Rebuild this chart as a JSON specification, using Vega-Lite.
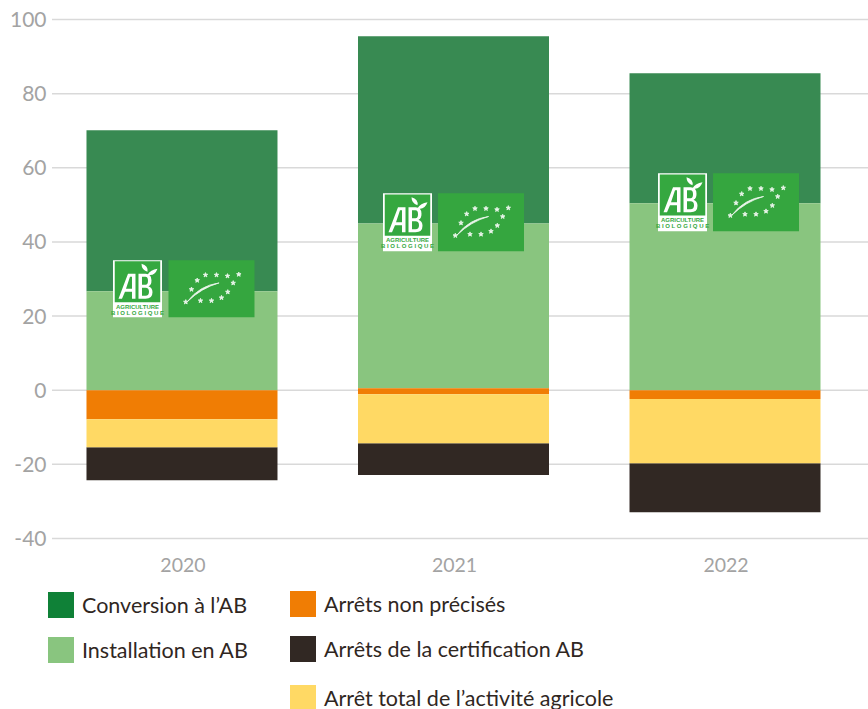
{
"$schema":"https://vega.github.io/schema/vega-lite/v6.json",
"width":816,"height":519,
"autosize":"none",
"padding":{"left":52,"top":19.5,"right":0,"bottom":170.5},
"background":"white",
"config":{"view":{"stroke":null},"font":"Lato",
"legend":{"orient":"none","title":null,"symbolType":"square","symbolSize":676,"symbolStrokeWidth":0,"symbolOpacity":1,"labelFont":"Lato","labelFontSize":21.5,"labelColor":"#30271f","labelOffset":8,"rowPadding":19,"direction":"vertical","padding":0,"labelLimit":400}},
"datasets":{
"ticks":[{"tick":-40},{"tick":-20},{"tick":0},{"tick":20},{"tick":40},{"tick":60},{"tick":80},{"tick":100}],
"bars":[
{"year":"2020","serie":"Conversion à l’AB","low":26.7,"high":70.1},
{"year":"2020","serie":"Installation en AB","low":0,"high":26.7},
{"year":"2020","serie":"Arrêts non précisés","low":-7.8,"high":0},
{"year":"2020","serie":"Arrêt total de l’activité agricole","low":-15.4,"high":-7.8},
{"year":"2020","serie":"Arrêts de la certification AB","low":-24.3,"high":-15.4},
{"year":"2021","serie":"Conversion à l’AB","low":45,"high":95.5},
{"year":"2021","serie":"Installation en AB","low":0.5,"high":45},
{"year":"2021","serie":"Arrêts non précisés","low":-1.1,"high":0.5},
{"year":"2021","serie":"Arrêt total de l’activité agricole","low":-14.3,"high":-1.1},
{"year":"2021","serie":"Arrêts de la certification AB","low":-22.9,"high":-14.3},
{"year":"2022","serie":"Conversion à l’AB","low":50.4,"high":85.5},
{"year":"2022","serie":"Installation en AB","low":0,"high":50.4},
{"year":"2022","serie":"Arrêts non précisés","low":-2.4,"high":0},
{"year":"2022","serie":"Arrêt total de l’activité agricole","low":-19.7,"high":-2.4},
{"year":"2022","serie":"Arrêts de la certification AB","low":-32.9,"high":-19.7}
],
"logos":[
{"year":"2020","top":35.07,"innerTop":34.8,"innerBottom":23.7,"bottom":19.7,"mid":27.38},
{"year":"2021","top":53.1,"innerTop":52.8,"innerBottom":41.7,"bottom":37.5,"mid":45.3},
{"year":"2022","top":58.5,"innerTop":58.2,"innerBottom":47.1,"bottom":42.9,"mid":50.7}
]},
"layer":[
{"data":{"name":"ticks"},"mark":{"type":"rule","color":"#d9d9d9","strokeWidth":1.5},
 "encoding":{"y":{"field":"tick","type":"quantitative","title":null,"scale":{"domain":[-40,100],"nice":false},
   "axis":{"values":[-40,-20,0,20,40,60,80,100],"domain":false,"ticks":false,"grid":false,"labelFont":"Lato","labelFontSize":21,"labelColor":"#a3a3a3","labelPadding":6,"labelOffset":1,"labelExpr":"replace(datum.label,'−','-')"}}}},
{
"encoding":{"x":{"field":"year","type":"ordinal","title":null,
 "scale":{"range":[-5.75,808.75],"paddingInner":0.2965,"paddingOuter":0.1482},
 "axis":{"labelAngle":0,"domain":false,"ticks":false,"grid":false,"labelFont":"Lato","labelFontSize":19.5,"labelColor":"#a3a3a3","labelPadding":18,"labelOffset":1}}},
"layer":[
{"data":{"name":"bars"},"transform":[{"filter":"datum.serie==='Conversion à l’AB'||datum.serie==='Installation en AB'"}],
 "mark":{"type":"bar","width":191,"opacity":0},
 "encoding":{
  "y":{"field":"high","type":"quantitative"},
  "y2":{"field":"low"},
  "color":{"field":"serie","type":"nominal","scale":{"domain":["Conversion à l’AB","Installation en AB"],"range":["#0F8137","#89C57F"]},
   "legend":{"legendX":-4,"legendY":572.5,"encode":{"labels":{"update":{"dy":{"value":2}}}}}}}},
{"data":{"name":"bars"},"transform":[{"filter":"datum.serie==='Conversion à l’AB'||datum.serie==='Installation en AB'"}],
 "mark":{"type":"bar","width":191},
 "encoding":{
  "y":{"field":"high","type":"quantitative"},
  "y2":{"field":"low"},
  "color":{"field":"serie","type":"nominal","scale":{"domain":["Conversion à l’AB","Installation en AB"],"range":["#388A52","#89C57F"]},"legend":null}}},
{"data":{"name":"bars"},"transform":[{"filter":"datum.serie==='Arrêts non précisés'||datum.serie==='Arrêts de la certification AB'"}],
 "mark":{"type":"bar","width":191},
 "encoding":{"y":{"field":"high","type":"quantitative"},"y2":{"field":"low"},
  "color":{"field":"serie","type":"nominal","scale":{"domain":["Arrêts non précisés","Arrêts de la certification AB"],"range":["#F07D04","#312823"]},
   "legend":{"legendX":238,"legendY":571.5,"encode":{"labels":{"update":{"dy":{"value":2}}}}}}}},
{"data":{"name":"bars"},"transform":[{"filter":"datum.serie==='Arrêt total de l’activité agricole'"}],
 "mark":{"type":"bar","width":191},
 "encoding":{"y":{"field":"high","type":"quantitative"},"y2":{"field":"low"},
  "color":{"field":"serie","type":"nominal","scale":{"domain":["Arrêt total de l’activité agricole"],"range":["#FFD964"]},
   "legend":{"legendX":238,"legendY":665.5,"encode":{"labels":{"update":{"dy":{"value":2}}}}}}}},
{"data":{"name":"logos"},"mark":{"type":"bar","width":49,"xOffset":{"expr":"datum.year==='2020'?-44.5:datum.year==='2021'?-46:-42.5"},"color":"#ffffff"},
 "encoding":{"y":{"field":"top","type":"quantitative"},"y2":{"field":"bottom"}}},
{"data":{"name":"logos"},"mark":{"type":"bar","width":45.5,"xOffset":{"expr":"datum.year==='2020'?-44.5:datum.year==='2021'?-46:-42.5"},"color":"#35A840"},
 "encoding":{"y":{"field":"innerTop","type":"quantitative"},"y2":{"field":"innerBottom"}}},
{"data":{"name":"logos"},"mark":{"type":"bar","width":86,"xOffset":{"expr":"datum.year==='2020'?29.5:datum.year==='2021'?27.5:31"},"color":"#35A63F"},
 "encoding":{"y":{"field":"top","type":"quantitative"},"y2":{"field":"bottom"}}},
{"data":{"name":"logos"},"mark":{"type":"point","filled":true,"color":"#ffffff","opacity":1,"strokeWidth":0,"size":4,"xOffset":{"expr":"datum.year==='2020'?-44.5:datum.year==='2021'?-46:-42.5"},
 "shape":"M-19 10L-9.5 -15L-2 -15L-2 10L-5.5 10L-5.5 3L-12.5 3L-15.5 10ZM-11.5 0L-5.5 0L-5.5 -12L-7.5 -12ZM1 -15L8 -15Q14 -15 14 -8.5Q14 -3.5 11 -2.5Q15 -1 15 3.5Q15 10 8 10L1 10ZM4.5 -12L4.5 -4L8 -4Q10.5 -4 10.5 -8Q10.5 -12 8 -12ZM4.5 -1L4.5 7L8 7Q11.5 7 11.5 3Q11.5 -1 8 -1ZM4 -25Q11 -23 10 -17Q4 -19 4 -25ZM20 -20Q17 -12 10 -14Q13 -19 20 -20Z"},
 "encoding":{"y":{"field":"mid","type":"quantitative"}}},
{"data":{"name":"logos"},"mark":{"type":"point","filled":true,"fill":"#ffffff","stroke":"#ffffff","opacity":0.9,"strokeWidth":0.8,"size":4,"xOffset":{"expr":"datum.year==='2020'?29.5:datum.year==='2021'?27.5:31"},
 "shape":"M27.3 -16.7l.588 1.592 1.696 .068 -1.332 1.048 .46 1.632 -1.412 -.94 -1.412 .94 .46 -1.632 -1.332 -1.048 1.696 -.068zM16 -15.1l.588 1.592 1.696 .068 -1.332 1.048 .46 1.632 -1.412 -.94 -1.412 .94 .46 -1.632 -1.332 -1.048 1.696 -.068zM5 -16.1l.588 1.592 1.696 .068 -1.332 1.048 .46 1.632 -1.412 -.94 -1.412 .94 .46 -1.632 -1.332 -1.048 1.696 -.068zM-6 -16.1l.588 1.592 1.696 .068 -1.332 1.048 .46 1.632 -1.412 -.94 -1.412 .94 .46 -1.632 -1.332 -1.048 1.696 -.068zM-14.3 -10.7l.588 1.592 1.696 .068 -1.332 1.048 .46 1.632 -1.412 -.94 -1.412 .94 .46 -1.632 -1.332 -1.048 1.696 -.068zM-20 -1.7l.588 1.592 1.696 .068 -1.332 1.048 .46 1.632 -1.412 -.94 -1.412 .94 .46 -1.632 -1.332 -1.048 1.696 -.068zM-25.7 10.9l.588 1.592 1.696 .068 -1.332 1.048 .46 1.632 -1.412 -.94 -1.412 .94 .46 -1.632 -1.332 -1.048 1.696 -.068zM-11 9.6l.588 1.592 1.696 .068 -1.332 1.048 .46 1.632 -1.412 -.94 -1.412 .94 .46 -1.632 -1.332 -1.048 1.696 -.068zM0 9.6l.588 1.592 1.696 .068 -1.332 1.048 .46 1.632 -1.412 -.94 -1.412 .94 .46 -1.632 -1.332 -1.048 1.696 -.068zM10 6.6l.588 1.592 1.696 .068 -1.332 1.048 .46 1.632 -1.412 -.94 -1.412 .94 .46 -1.632 -1.332 -1.048 1.696 -.068zM16.3 .9l.588 1.592 1.696 .068 -1.332 1.048 .46 1.632 -1.412 -.94 -1.412 .94 .46 -1.632 -1.332 -1.048 1.696 -.068zM21.7 -8.1l.588 1.592 1.696 .068 -1.332 1.048 .46 1.632 -1.412 -.94 -1.412 .94 .46 -1.632 -1.332 -1.048 1.696 -.068zM-24 12.8Q-12 -3.2 7.6 -5.8Q-10 -.8 -24 12.8Z"},
 "encoding":{"y":{"field":"mid","type":"quantitative"}}},
{"data":{"name":"logos"},"mark":{"type":"text","text":"AGRICULTURE","font":"Liberation Sans","fontWeight":"bold","fontSize":6,"color":"#35A840","xOffset":{"expr":"datum.year==='2020'?-44.5:datum.year==='2021'?-46:-42.5"},"dy":17.8,"baseline":"middle"},
 "encoding":{"y":{"field":"mid","type":"quantitative"}}},
{"data":{"name":"logos"},"mark":{"type":"text","text":"B I O L O G I Q U E","font":"Liberation Sans","fontWeight":"bold","fontSize":6,"color":"#35A840","xOffset":{"expr":"datum.year==='2020'?-44.5:datum.year==='2021'?-46:-42.5"},"dy":24.2,"baseline":"middle"},
 "encoding":{"y":{"field":"mid","type":"quantitative"}}}
],
"resolve":{"scale":{"color":"independent"}}
}],
"resolve":{"scale":{"color":"independent"}}
}
